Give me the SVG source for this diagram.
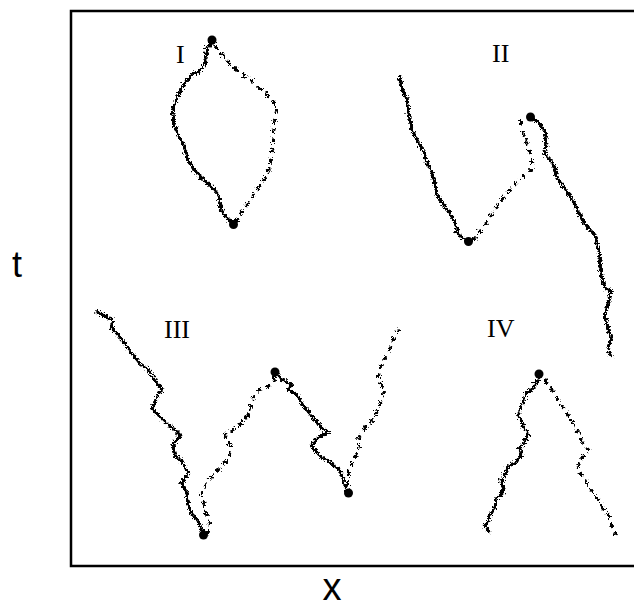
<svg xmlns="http://www.w3.org/2000/svg" width="634" height="607" viewBox="0 0 634 607">
<style>
.walk{fill:none;stroke:#000;stroke-width:2.5;stroke-linejoin:miter;stroke-linecap:butt}
.dash{stroke-dasharray:5 5}
.dot{fill:#000}
.roman{font-family:"Liberation Serif","Times New Roman",serif;font-size:26px;fill:#000}
.axis{font-family:"Liberation Sans",Arial,sans-serif;fill:#000}
</style>
<defs>
<filter id="jag" filterUnits="userSpaceOnUse" x="0" y="0" width="634" height="607">
<feTurbulence type="turbulence" baseFrequency="0.32" numOctaves="2" seed="7" result="n"/>
<feDisplacementMap in="SourceGraphic" in2="n" scale="6" xChannelSelector="R" yChannelSelector="G" result="d"/>
<feComponentTransfer in="d">
<feFuncA type="linear" slope="2.4" intercept="0"/>
</feComponentTransfer>
</filter>
</defs>
<rect width="634" height="607" fill="#fff"/>
<path d="M634 11 H71 V566 H634" fill="none" stroke="#000" stroke-width="2.5"/>
<text class="axis" x="17" y="277" font-size="36" text-anchor="middle">t</text>
<text class="axis" x="332" y="600" font-size="38" text-anchor="middle">x</text>
<g id="connectors" filter="url(#jag)">
<polyline class="walk" points="211.7,40 206.7,45 205,50 203.3,63.3 196.7,70 190,73.3 181.7,83.3 175,96.7 170.7,110 171.7,120 175,130 181.7,143.3 185,153.3 186.7,160 196.7,173.3 208.3,183.3 216.7,193.3 218.3,201.7 221.7,213.3 228.3,218.3 233.3,224"/>
<polyline class="walk dash" points="213,44 220,51.7 228.3,63.3 240,71.7 250,80 260,88.3 268.3,96.7 275,103.3 273.3,116.7 271.7,130 271.7,143.3 270,156.7 268.3,166.7 263.3,176.7 256.7,186.7 250,196.7 245,203.3 238.3,213.3 235,220"/>
<polyline class="walk" points="398.3,75 400,86.7 405,96.7 406.7,110 410,126.7 415,136.7 421.7,150 425,160 430,170 433.3,183.3 435,193.3 441.7,203.3 446.7,210 451.7,216.7 455,226.7 456.7,233.3 463.3,238.3 468.3,241.7"/>
<polyline class="walk dash" points="470,239 473.3,236.7 483.3,223.3 493.3,208.3 503.3,193.3 513.3,183.3 523.3,173.3 531.7,166.7 530,156.7 526.7,146.7 523.3,136.7 520,126.7 519.3,118.3"/>
<polyline class="walk" points="530,117 536.7,120 543.3,130 545,143.3 543.3,153.3 550,160 553.3,166.7 556.7,180 563.3,186.7 570,196.7 575,206.7 580,216.7 586.7,226.7 593.3,233.3 596.7,246.7 598.3,260 600,273.3 603.3,286.7 610,290 606.7,300 603.3,313.3 606.7,326.7 610,336.7 606.7,346.7 610,356.7"/>
<polyline class="walk" points="95,310 105,315 111.7,318.3 110,326.7 116.7,333.3 123.3,341.7 130,351.7 138.3,361.7 146.7,368.3 153.3,378.3 160,388.3 155,396.7 150,406.7 156.7,413.3 163.3,420 171.7,426.7 178.3,433.3 171.7,443.3 173.3,453.3 180,460 186.7,471.7 180,481.7 185,491.7 186.7,503.3 190,511.7 196.7,520 200,526.7 203.3,535"/>
<polyline class="walk dash" points="205,533 206.7,530 208.3,520 203.3,510 201.7,500 200,490 205,481.7 213.3,471.7 220,465 226.7,456.7 230,446.7 226.7,440 223.3,433.3 231.7,428.3 240,421.7 246.7,413.3 250,403.3 251.7,393.3 258.3,388.3 266.7,385 271.7,380 275,371.7"/>
<polyline class="walk" points="275,371.7 280,378.3 290,383.3 286.7,388.3 295,393.3 300,401.7 306.7,410 313.3,418.3 320,426.7 326.7,430 318.3,435 310,443.3 316.7,453.3 326.7,460 336.7,466.7 340,473.3 343.3,483.3 348.3,493.3"/>
<polyline class="walk dash" points="346.7,485 346.7,473.3 350,463.3 355,453.3 358.3,443.3 356.7,436.7 363.3,426.7 373.3,416.7 376.7,406.7 380,396.7 383.3,388.3 378.3,380 376.7,370 381.7,360 388.3,346.7 393.3,333.3 398,328"/>
<polyline class="walk" points="539,373.3 536.7,378.3 531.7,386.7 525,391.7 521.7,400 516.7,411.7 520,420 523.3,426.7 526.7,433.3 523.3,440 518.3,446.7 520,453.3 515,460 506.7,465 503.3,473.3 500,480 501.7,490 495,496.7 493.3,506.7 488.3,513.3 486.7,520 483.3,523.3 488.3,531.7"/>
<polyline class="walk dash" points="543,378 545,381.7 551.7,390 556.7,400 563.3,408.3 570,418.3 576.7,430 580,440 586.7,448.3 580,456.7 575,466.7 581.7,476.7 588.3,486.7 595,495 600,503.3 606.7,513.3 610,523.3 613.3,533.3"/>
</g>
<g id="panel-I">
<text class="roman" x="176" y="63">I</text>
<circle class="dot" cx="212" cy="40" r="4.5"/>
<circle class="dot" cx="233.5" cy="224.5" r="4.5"/>
</g>
<g id="panel-II">
<text class="roman" x="492" y="62">II</text>
<circle class="dot" cx="468.5" cy="241.5" r="4.5"/>
<circle class="dot" cx="530.5" cy="117" r="4.5"/>
</g>
<g id="panel-III">
<text class="roman" x="164" y="338">III</text>
<circle class="dot" cx="203.5" cy="535" r="4.5"/>
<circle class="dot" cx="275" cy="372" r="4.5"/>
<circle class="dot" cx="348.5" cy="493" r="4.5"/>
</g>
<g id="panel-IV">
<text class="roman" x="487" y="337">IV</text>
<circle class="dot" cx="539" cy="374" r="4.5"/>
</g>
</svg>
